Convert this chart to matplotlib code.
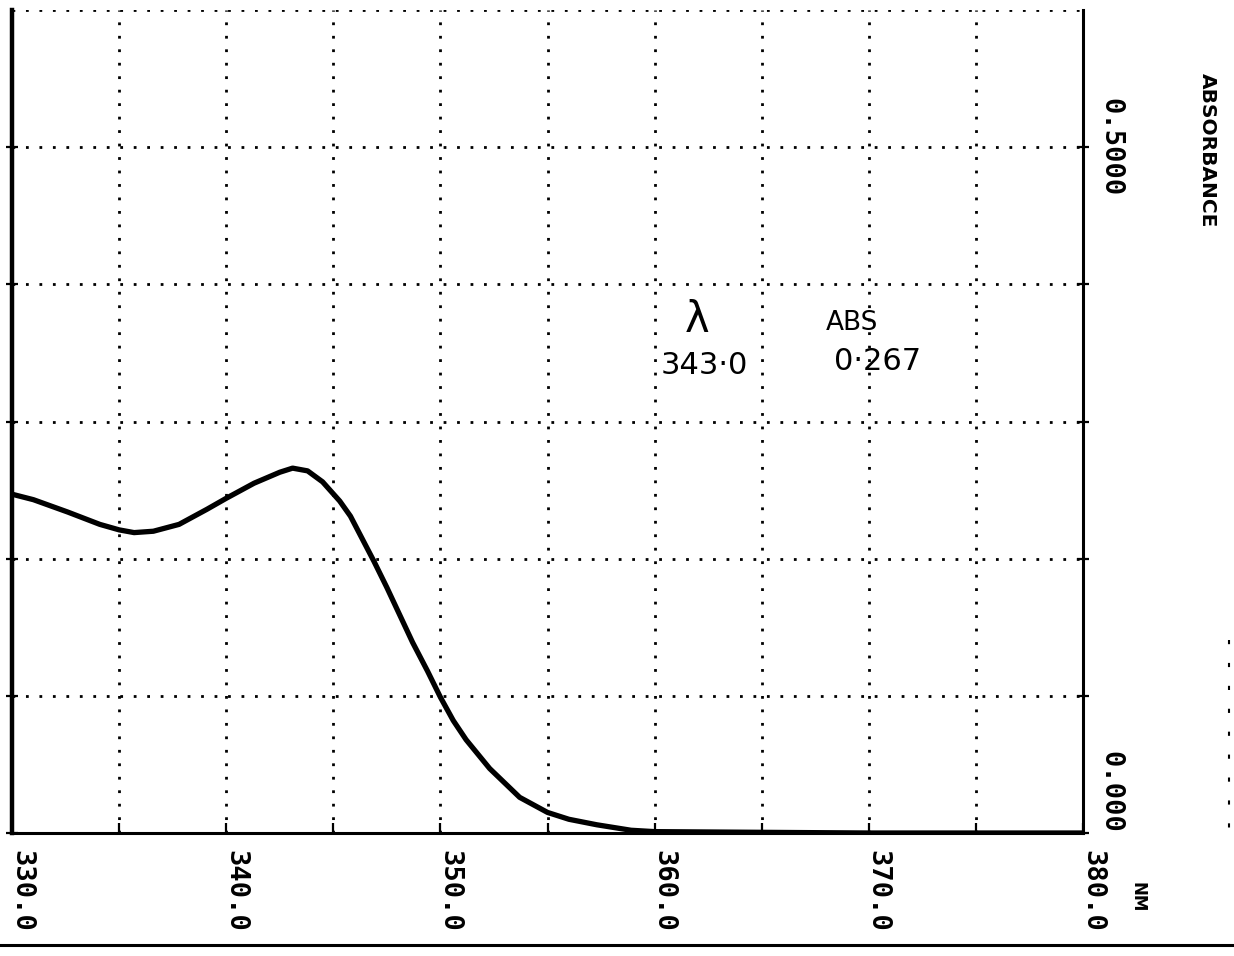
import matplotlib
matplotlib.use("Agg")
import matplotlib.pyplot as plt
import matplotlib.transforms as mtransforms
from matplotlib.lines import Line2D

# Scan of absorbance versus wavelength
wavelength_nm = [330.0, 331.0, 332.6, 334.1, 335.0, 335.7, 336.6, 337.8, 339.1,
                 340.0, 341.3, 342.5, 343.1, 343.8, 344.5, 345.3, 345.8, 346.3,
                 346.9, 347.5, 348.1, 348.7, 349.4, 350.0, 350.6, 351.2, 352.3,
                 353.7, 355.0, 356.0, 357.3, 358.9, 360.0, 365.0, 370.0, 375.0,
                 380.0]
absorbance = [0.247, 0.243, 0.234, 0.225, 0.221, 0.219, 0.220, 0.225, 0.236,
              0.244, 0.255, 0.263, 0.266, 0.264, 0.256, 0.242, 0.231, 0.216,
              0.198, 0.179, 0.159, 0.139, 0.118, 0.099, 0.082, 0.068, 0.047,
              0.026, 0.015, 0.010, 0.006, 0.002, 0.001, 0.0005, 0.0, 0.0, 0.0]

x_major = [330, 340, 350, 360, 370, 380]
x_major_labels = ["330.0", "340.0", "350.0", "360.0", "370.0", "380.0"]
x_minor = [335, 345, 355, 365, 375]
y_grid = [0.1, 0.2, 0.3, 0.4, 0.5, 0.6]
y_major = [0.0, 0.5]
y_major_labels = ["0.000", "0.5000"]

peak_nm = 343.0
peak_abs = 0.267

W, H = 1234, 956
fig = plt.figure(figsize=(W / 100, H / 100), dpi=100)
fig.patch.set_facecolor("white")

ax = fig.add_axes([12 / W, 1 - 833 / H, (1083 - 12) / W, (833 - 10) / H])
ax.set_xlim(330, 380)
ax.set_ylim(0, 0.6)
ax.set_facecolor("white")

dot_style = dict(color="black", linewidth=2.0, linestyle=(0, (1.0, 3.85)),
                 dash_capstyle="butt", zorder=1)
for xv in x_minor + x_major[1:-1]:
    ax.axvline(xv, **dot_style)
for yv in y_grid:
    ax.axhline(yv, **dot_style)

# spines: solid left/right/bottom, dotted top drawn as a grid line
ax.spines["top"].set_visible(False)
ax.spines["left"].set_linewidth(3.2)
ax.spines["right"].set_linewidth(2.2)
ax.spines["bottom"].set_linewidth(2.2)
for s in ("left", "right", "bottom"):
    ax.spines[s].set_zorder(3)

ax.plot(wavelength_nm, absorbance, color="black", linewidth=3.8,
        solid_capstyle="round", solid_joinstyle="round", zorder=4)

# x ticks
ax.set_xticks(x_major)
ax.set_xticks(x_minor, minor=True)
ax.set_xticklabels(x_major_labels, rotation=-90, fontfamily="DejaVu Sans Mono",
                   fontweight="bold", fontsize=19.5)
ax.tick_params(axis="x", which="both", direction="in", length=7, width=1.6,
               pad=12, top=False)
offset = mtransforms.ScaledTranslation(9 / 100, 0, fig.dpi_scale_trans)
for lbl in ax.get_xticklabels():
    lbl.set_transform(lbl.get_transform() + offset)

# y ticks on the right
ax.yaxis.tick_right()
ax.set_yticks(y_major)
ax.set_yticks(y_grid[:-1], minor=True)
ax.set_yticklabels(y_major_labels, rotation=-90, fontfamily="DejaVu Sans Mono",
                   fontweight="bold", fontsize=19.5)
ax.tick_params(axis="y", which="both", direction="inout", length=8, width=1.6,
               pad=6, left=True, right=True)
ylbls = ax.get_yticklabels()
ylbls[0].set_va("bottom")
ylbls[1].set_va("center")

fig.text(1207 / W, 1 - 150 / H, "ABSORBANCE", rotation=-90, ha="center",
         va="center", fontsize=14.5, fontweight="bold", family="DejaVu Sans")
fig.text(1137 / W, 1 - 897 / H, "NM", rotation=-90, ha="center", va="center",
         fontsize=12, fontweight="bold", family="DejaVu Sans")

# hand-written peak reading
hand = dict(color="black", ha="center", va="center", family="DejaVu Sans",
            fontweight="normal", zorder=5)
fig.text(697 / W, 1 - 320 / H, "λ", fontsize=30, **hand)
fig.text(704 / W, 1 - 366 / H, f"{peak_nm:.1f}".replace(".", "·"),
         fontsize=22, **hand)
fig.text(852 / W, 1 - 323 / H, "ABS", fontsize=19, **hand)
fig.text(878 / W, 1 - 362 / H, f"{peak_abs:.3f}".replace(".", "·"),
         fontsize=22, **hand)

# page edge at the bottom and margin marks on the right
fig.add_artist(Line2D([0, 1], [1 - 945 / H, 1 - 945 / H], color="black",
                      linewidth=2.2, transform=fig.transFigure))
fig.add_artist(Line2D([1229 / W, 1229 / W], [1 - 640 / H, 1 - 830 / H],
                      color="black", linewidth=1.5, linestyle=(0, (2, 9)),
                      transform=fig.transFigure))

fig.savefig("out.png", dpi=100, facecolor="white")
